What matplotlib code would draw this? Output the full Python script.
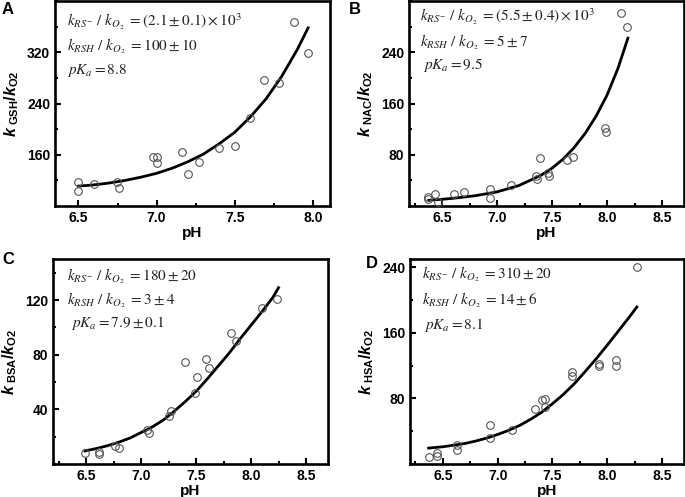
import numpy as np
import matplotlib
matplotlib.use("Agg")
import matplotlib.pyplot as plt
from matplotlib.ticker import MultipleLocator

plt.rcParams['font.family'] = 'Liberation Sans'
plt.rcParams['mathtext.fontset'] = 'custom'
plt.rcParams['mathtext.rm'] = 'Liberation Sans:bold'
plt.rcParams['mathtext.it'] = 'Liberation Sans:bold:italic'
plt.rcParams['mathtext.bf'] = 'Liberation Sans:bold'

# panel A - GSH
ph_gsh = [6.50, 6.50, 6.60, 6.745, 6.76, 6.98, 7.00, 7.00, 7.16, 7.20, 7.27, 7.40, 7.50, 7.60, 7.69, 7.785, 7.88, 7.97]
k_gsh = [117, 103, 114, 118, 108, 156, 157, 147, 164, 130, 148, 171, 173, 218, 276, 272, 368, 319]
fit_ph_gsh = [6.5, 6.6, 6.7, 6.8, 6.9, 7.0, 7.1, 7.2, 7.3, 7.4, 7.5, 7.6, 7.7, 7.8, 7.9, 7.97]
fit_gsh = [111, 113, 116, 120, 125, 131, 139, 149, 161, 177, 195, 219, 247, 282, 324, 358]

# panel B - NAC
ph_nac = [6.37, 6.37, 6.44, 6.46, 6.61, 6.70, 6.94, 6.94, 7.13, 7.35, 7.36, 7.39, 7.46, 7.47, 7.64, 7.69, 7.98, 7.99, 8.13, 8.18]
k_nac = [14, 11, 19, 7, 19, 22, 27, 13, 33, 47, 42, 75, 52, 47, 72, 77, 122, 115, 302, 280]
fit_ph_nac = [6.38, 6.5, 6.6, 6.7, 6.8, 6.9, 7.0, 7.1, 7.2, 7.3, 7.4, 7.5, 7.6, 7.7, 7.8, 7.9, 8.0, 8.1, 8.19]
fit_nac = [9, 10.5, 12, 14, 16, 19, 22, 27, 32, 40, 48, 59, 73, 91, 113, 140, 173, 215, 262]

# panel C - BSA
ph_bsa = [6.49, 6.62, 6.62, 6.76, 6.80, 7.05, 7.07, 7.25, 7.27, 7.40, 7.49, 7.51, 7.59, 7.62, 7.82, 7.86, 8.10, 8.24]
k_bsa = [8, 7, 9, 13, 12, 25, 23, 35, 39, 75, 52, 64, 77, 70, 95.5, 90, 114, 121]
fit_ph_bsa = [6.49, 6.6, 6.7, 6.8, 6.9, 7.0, 7.1, 7.2, 7.3, 7.4, 7.5, 7.6, 7.7, 7.8, 7.9, 8.0, 8.1, 8.2, 8.25]
fit_bsa = [9.6, 11.4, 13.5, 16, 19, 23, 27, 32, 38.5, 45.5, 53, 62, 71.5, 81, 91.5, 101.5, 111.5, 122, 129]

# panel D - HSA
ph_hsa = [6.37, 6.45, 6.45, 6.63, 6.63, 6.93, 6.93, 7.13, 7.34, 7.40, 7.43, 7.43, 7.68, 7.68, 7.92, 7.92, 8.08, 8.08, 8.27]
k_hsa = [8, 13, 10, 23, 17, 48, 32, 42, 67, 78, 79, 70, 112, 107, 122, 120, 127, 120, 240]
fit_ph_hsa = [6.37, 6.5, 6.6, 6.7, 6.8, 6.9, 7.0, 7.1, 7.2, 7.3, 7.4, 7.5, 7.6, 7.7, 7.8, 7.9, 8.0, 8.1, 8.2, 8.27]
fit_hsa = [19.4, 21, 23, 25, 28, 31.6, 36, 41, 47, 54.5, 63, 73.5, 85, 98, 113, 128.5, 145, 162, 179, 191.5]

panels = [
    dict(letter='A', ph=ph_gsh, k=k_gsh, fx=fit_ph_gsh, fy=fit_gsh, name='GSH',
         xlim=(6.35, 8.11), ylim=(80, 400), ymaj=80, ymin=40, xt=[6.5, 7.0, 7.5, 8.0],
         rect=[55, 1, 275, 205],
         lines=[r'$k_{RS^{-}}\ /\ k_{O_2}\ =(2.1\pm0.1)\times10^3$',
                r'$k_{RSH}\ /\ k_{O_2}\ =100\pm10$',
                r'$pK_a=8.8$'],
         tx=[0.044, 0.044, 0.044], ty=[0.9, 0.78, 0.66], lpos=(2, 2)),
    dict(letter='B', ph=ph_nac, k=k_nac, fx=fit_ph_nac, fy=fit_nac, name='NAC',
         xlim=(6.2, 8.7), ylim=(0, 320), ymaj=80, ymin=40, xt=[6.5, 7.0, 7.5, 8.0, 8.5],
         rect=[409, 1, 275, 205],
         lines=[r'$k_{RS^{-}}\ /\ k_{O_2}\ =(5.5\pm0.4)\times10^3$',
                r'$k_{RSH}\ /\ k_{O_2}\ =5\pm7$',
                r'$pK_a=9.5$'],
         tx=[0.04, 0.04, 0.05], ty=[0.92, 0.80, 0.688], lpos=(349, 2)),
    dict(letter='C', ph=ph_bsa, k=k_bsa, fx=fit_ph_bsa, fy=fit_bsa, name='BSA',
         xlim=(6.2, 8.7), ylim=(0, 150), ymaj=40, ymin=20, xt=[6.5, 7.0, 7.5, 8.0, 8.5],
         rect=[53, 259, 275, 205],
         lines=[r'$k_{RS^{-}}\ /\ k_{O_2}\ =180\pm20$',
                r'$k_{RSH}\ /\ k_{O_2}\ =3\pm4$',
                r'$pK_a=7.9\pm0.1$'],
         tx=[0.05, 0.05, 0.065], ty=[0.915, 0.80, 0.688], lpos=(2, 252)),
    dict(letter='D', ph=ph_hsa, k=k_hsa, fx=fit_ph_hsa, fy=fit_hsa, name='HSA',
         xlim=(6.2, 8.7), ylim=(0, 250), ymaj=80, ymin=40, xt=[6.5, 7.0, 7.5, 8.0, 8.5],
         rect=[410, 259, 274, 205],
         lines=[r'$k_{RS^{-}}\ /\ k_{O_2}\ =310\pm20$',
                r'$k_{RSH}\ /\ k_{O_2}\ =14\pm6$',
                r'$pK_a=8.1$'],
         tx=[0.044, 0.044, 0.05], ty=[0.925, 0.80, 0.678], lpos=(366, 256)),
]

W, H = 685, 497
fig = plt.figure(figsize=(W / 100, H / 100), dpi=100)

for p in panels:
    x0, y0, w, h = p['rect']
    ax = fig.add_axes([x0 / W, (H - y0 - h) / H, w / W, h / H])
    ax.plot(p['fx'], p['fy'], color='black', lw=2.0, zorder=2)
    ax.plot(p['ph'], p['k'], 'o', mfc='none', mec='#555555', ms=5.5, mew=0.8, zorder=3)
    ax.set_xlim(p['xlim'])
    ax.set_ylim(p['ylim'])
    ax.set_xticks(p['xt'])
    ax.xaxis.set_minor_locator(MultipleLocator(0.25))
    ax.yaxis.set_major_locator(MultipleLocator(p['ymaj']))
    ax.yaxis.set_minor_locator(MultipleLocator(p['ymin']))
    ax.set_yticks([t for t in ax.get_yticks() if p['ylim'][0] < t < p['ylim'][1]])
    ax.set_xticklabels(['%.1f' % t for t in p['xt']])
    ax.tick_params(which='both', direction='in', top=False, right=False, width=1.5, labelsize=10)
    ax.tick_params(which='major', length=4)
    ax.tick_params(which='minor', length=2.5)
    for lab in ax.get_xticklabels() + ax.get_yticklabels():
        lab.set_fontweight('bold')
    for s in ax.spines.values():
        s.set_linewidth(1.9)
    ax.set_xlabel('pH', fontsize=11, fontweight='bold', labelpad=1)
    ax.set_ylabel(r'$k_{\ \mathrm{%s}}/k_{\mathrm{O2}}$' % p['name'], fontsize=11.5, labelpad=4)
    for txt, tx, ty in zip(p['lines'], p['tx'], p['ty']):
        ax.text(tx, ty, txt, transform=ax.transAxes, fontsize=11, va='center', ha='left',
                math_fontfamily='stix', color='#222222')
    fig.text(p['lpos'][0] / W, 1 - p['lpos'][1] / H, p['letter'], fontsize=12,
             fontweight='bold', va='top', ha='left')

fig.savefig('out.png', dpi=100)
